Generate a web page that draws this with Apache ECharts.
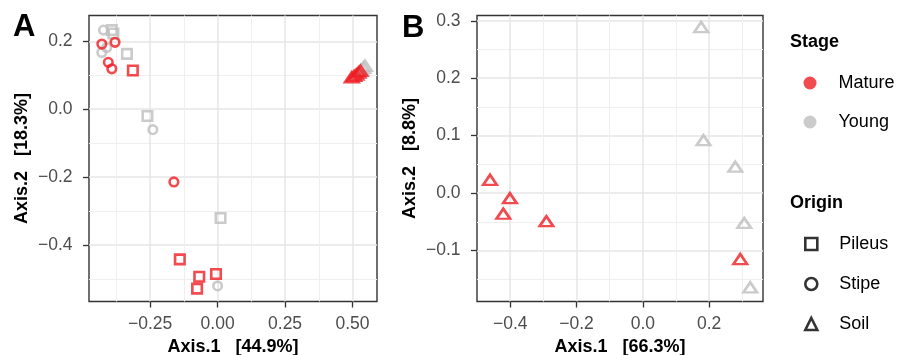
<!DOCTYPE html>
<html>
<head>
<meta charset="utf-8">
<script src="https://cdn.jsdelivr.net/npm/echarts@6/dist/echarts.min.js"></script>
<style>
  html, body { margin: 0; padding: 0; background: #fff; }
  #chart { width: 900px; height: 355px; }
</style>
</head>
<body>
<div id="chart"></div>
<script>
// panel A - all origins, points are [Axis.1, Axis.2]
const aYoungPileus = [[-0.392, 0.233], [-0.386, 0.223], [-0.336, 0.163], [-0.260, -0.020], [0.011, -0.320]];
const aYoungStipe = [[-0.423, 0.233], [-0.411, 0.182], [-0.429, 0.167], [-0.240, -0.060], [0.000, -0.520]];
const aYoungSoil = [[0.532, 0.116], [0.540, 0.122], [0.546, 0.128]];
const aMaturePileus = [[-0.314, 0.114], [-0.140, -0.442], [-0.068, -0.493], [-0.006, -0.485], [-0.076, -0.528]];
const aMatureStipe = [[-0.429, 0.192], [-0.380, 0.197], [-0.405, 0.138], [-0.392, 0.119], [-0.162, -0.214]];
const aMatureSoil = [[0.497, 0.094], [0.506, 0.098], [0.514, 0.102], [0.522, 0.108], [0.529, 0.113]];

// panel B - soil only
const bYoungSoil = [[0.176, 0.289], [0.183, 0.092], [0.279, 0.046], [0.306, -0.052], [0.324, -0.164]];
const bMatureSoil = [[-0.461, 0.023], [-0.401, -0.009], [-0.421, -0.036], [-0.291, -0.049], [0.294, -0.115]];

// tick labels (major) and minor grid positions
const aXTicks = [-0.25, 0, 0.25, 0.5];
const aXMinor = [-0.375, -0.125, 0.125, 0.375];
const aYTicks = [-0.4, -0.2, 0, 0.2];
const aYMinor = [-0.5, -0.3, -0.1, 0.1];
const bXTicks = [-0.4, -0.2, 0, 0.2];
const bXMinor = [-0.3, -0.1, 0.1, 0.3];
const bYTicks = [-0.1, 0, 0.1, 0.2, 0.3];
const bYMinor = [-0.15, -0.05, 0.05, 0.15, 0.25];

const stageNames = ["Mature", "Young"];
const originNames = ["Pileus", "Stipe", "Soil"];

const RED = "#EE1D23";
const GREY = "#BEBEBE";
const FONT = "Liberation Sans, Arial, sans-serif";

const chart = echarts.init(document.getElementById("chart"));

// ggplot style numbers: real minus sign, fixed decimals
function fmt(digits) {
  return function (v) {
    const s = Math.abs(v).toFixed(digits);
    return v < -1e-9 ? "\u2212" + s : s;
  };
}

function majorAxis(gridIndex, pos, min, max, ticks, digits, name, nameGap, labelMargin) {
  return {
    type: "value",
    gridIndex: gridIndex,
    position: pos,
    min: min,
    max: max,
    name: name,
    nameLocation: "middle",
    nameGap: nameGap,
    nameTextStyle: { fontFamily: FONT, fontWeight: "bold", fontSize: 18, color: "#000" },
    axisLine: { show: false, onZero: false },
    axisTick: { show: true, length: 6, customValues: ticks, lineStyle: { color: "#333", width: 1.3 } },
    axisLabel: { customValues: ticks, formatter: fmt(digits), color: "#4D4D4D", fontSize: 17.5, fontFamily: FONT, margin: labelMargin },
    splitLine: { show: true, lineStyle: { color: "#E6E6E6", width: 1.5 } }
  };
}

function minorAxis(gridIndex, pos, min, max, minor) {
  return {
    type: "value",
    gridIndex: gridIndex,
    position: pos,
    min: min,
    max: max,
    axisLine: { show: false, onZero: false },
    axisTick: { show: false, customValues: minor },
    axisLabel: { show: false },
    splitLine: { show: true, lineStyle: { color: "#EFEFEF", width: 1 } }
  };
}

function pts(name, data, symbol, color, xi, yi) {
  let size = 9.5;
  if (symbol === "circle") size = 8.6;
  if (symbol === "triangle") size = [13.5, 10];
  return {
    name: name,
    type: "scatter",
    xAxisIndex: xi,
    yAxisIndex: yi,
    data: data,
    symbol: symbol,
    symbolSize: size,
    itemStyle: { color: "rgba(0,0,0,0)", borderColor: color, borderWidth: 2.6 },
    emphasis: { disabled: true },
    silent: true
  };
}

const series = [
  pts("A Young Pileus", aYoungPileus, "rect", GREY, 0, 0),
  pts("A Young Stipe", aYoungStipe, "circle", GREY, 0, 0),
  pts("A Young Soil", aYoungSoil, "triangle", GREY, 0, 0),
  pts("A Mature Pileus", aMaturePileus, "rect", RED, 0, 0),
  pts("A Mature Stipe", aMatureStipe, "circle", RED, 0, 0),
  pts("A Mature Soil", aMatureSoil, "triangle", RED, 0, 0),
  pts("B Young Soil", bYoungSoil, "triangle", GREY, 2, 2),
  pts("B Mature Soil", bMatureSoil, "triangle", RED, 2, 2)
];

// empty series that only feed the two legends
stageNames.concat(originNames).forEach(function (n) {
  series.push({ name: n, type: "scatter", xAxisIndex: 0, yAxisIndex: 0, data: [] });
});

const option = {
  animation: false,
  backgroundColor: "#fff",
  title: [
    { text: "A", left: 13, top: 12, padding: 0, textStyle: { fontFamily: FONT, fontSize: 31, fontWeight: "bold", color: "#000" } },
    { text: "B", left: 402, top: 13, padding: 0, textStyle: { fontFamily: FONT, fontSize: 31, fontWeight: "bold", color: "#000" } },
    { text: "Stage", left: 790, top: 33, padding: 0, textStyle: { fontFamily: FONT, fontSize: 18, fontWeight: "bold", color: "#000" } },
    { text: "Origin", left: 790, top: 194, padding: 0, textStyle: { fontFamily: FONT, fontSize: 18, fontWeight: "bold", color: "#000" } }
  ],
  legend: [
    {
      orient: "vertical",
      left: 803.5,
      top: 74,
      padding: 0,
      itemWidth: 13,
      itemHeight: 13,
      itemGap: 21,
      selectedMode: false,
      textStyle: { fontFamily: FONT, fontSize: 18, color: "#000", padding: [0, 0, 0, 17] },
      data: [
        { name: "Mature", icon: "circle", itemStyle: { color: RED, borderWidth: 0 } },
        { name: "Young", icon: "circle", itemStyle: { color: GREY, borderWidth: 0 } }
      ]
    },
    {
      orient: "vertical",
      left: 804,
      top: 235,
      padding: 0,
      itemWidth: 12,
      itemHeight: 12,
      itemGap: 22,
      selectedMode: false,
      textStyle: { fontFamily: FONT, fontSize: 18, color: "#000", padding: [0, 0, 0, 17] },
      data: [
        { name: "Pileus", icon: "rect", itemStyle: { color: "rgba(0,0,0,0)", borderColor: "#000", borderWidth: 2.6 } },
        { name: "Stipe", icon: "circle", itemStyle: { color: "rgba(0,0,0,0)", borderColor: "#000", borderWidth: 2.6 } },
        { name: "Soil", icon: "triangle", itemStyle: { color: "rgba(0,0,0,0)", borderColor: "#000", borderWidth: 2.6 } }
      ]
    }
  ],
  grid: [
    { left: 89, top: 15.5, width: 288, height: 286, outerBoundsMode: "none", containLabel: false, show: true, borderColor: "#333", borderWidth: 1.4, backgroundColor: "#fff" },
    { left: 477, top: 15.5, width: 286, height: 286, outerBoundsMode: "none", containLabel: false, show: true, borderColor: "#333", borderWidth: 1.4, backgroundColor: "#fff" }
  ],
  xAxis: [
    majorAxis(0, "bottom", -0.4765, 0.5906, aXTicks, 2, "Axis.1   [44.9%]", 37, 14),
    minorAxis(0, "top", -0.4765, 0.5906, aXMinor),
    majorAxis(1, "bottom", -0.5003, 0.3626, bXTicks, 1, "Axis.1   [66.3%]", 37, 14),
    minorAxis(1, "top", -0.5003, 0.3626, bXMinor)
  ],
  yAxis: [
    majorAxis(0, "left", -0.566, 0.276, aYTicks, 1, "Axis.2   [18.3%]", 58, 16.5),
    minorAxis(0, "right", -0.566, 0.276, aYMinor),
    majorAxis(1, "left", -0.1888, 0.3092, bYTicks, 1, "Axis.2   [8.8%]", 58, 16.5),
    minorAxis(1, "right", -0.1888, 0.3092, bYMinor)
  ],
  series: series
};

chart.setOption(option);
</script>
</body>
</html>
